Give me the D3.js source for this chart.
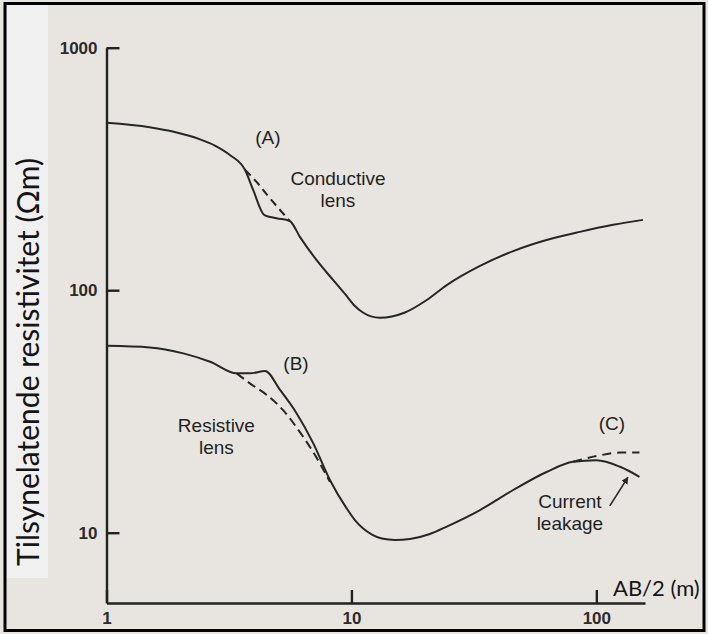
<!DOCTYPE html>
<html lang="no">
<head>
<meta charset="UTF-8" />
<title>Tilsynelatende resistivitet</title>
<script src="https://d3js.org/d3.v7.min.js"></script>
<style>
  body { margin: 0; background: #fff; }
  svg { display: block; }
  .tick text { font-family: "Liberation Sans", Arial, sans-serif; font-weight: bold; font-size: 17px; fill: #2b2b2b; }
  .note { font-family: "Liberation Sans", Arial, sans-serif; font-size: 19px; fill: #1f1f1f; }
</style>
</head>
<body>
<div class="canvas"></div>
<script>
// tick labels
const xTicks = [1, 10, 100];
const yTicks = [10, 100, 1000];

// [AB/2, rho_a]
const curveA = [[1, 490], [1.5, 470], [1.9, 449], [2.41, 419], [2.77, 395], [3.19, 361],
  [3.68, 313], [3.97, 259], [4.41, 204], [4.95, 198], [5.6, 193], [6.16, 166], [7.21, 133],
  [8.43, 110], [9.41, 96.5], [10.33, 86.1], [11.14, 80.9], [12.02, 78], [13.07, 77],
  [14.63, 77.9], [16.54, 80.9], [20.3, 91.1], [24.5, 105], [33.5, 126], [45.8, 145],
  [62.6, 161], [85.6, 174], [117, 186], [155, 195]];
const curveAlens = [[3.68, 313], [4.12, 278], [4.56, 245], [5.6, 193]];

const curveB = [[1, 59], [1.5, 58.1], [2.06, 54.9], [2.65, 50.7], [3.4, 45.4], [3.85, 45.4],
  [4.44, 46.4], [5.11, 38.8], [5.97, 31.1], [6.98, 23.4], [8.17, 16.5], [9.56, 12.6],
  [10.33, 11.28], [11.17, 10.41], [12.13, 9.83], [13.32, 9.46], [15.05, 9.33], [17.33, 9.42],
  [20.9, 9.88], [24.5, 10.6], [33.5, 12.4], [45.8, 15], [62.6, 17.8], [80.4, 19.6],
  [100, 19.9], [125, 18.7], [150, 17]];
const curveBlens = [[3.4, 45.4], [3.85, 41.3], [4.51, 37.0], [5.25, 32.1], [6.16, 26.0],
  [7.1, 20.9], [8.17, 16.2]];
const curveCnoLeak = [[80.4, 19.6], [100, 20.7], [125, 21.4], [150, 21.4]];

// annotations: text lines anchored in data coordinates
const notes = [
  { at: [4.56, 401], lines: ["(A)"] },
  { at: [8.81, 272], lines: ["Conductive", "lens"] },
  { at: [5.94, 46.9], lines: ["(B)"] },
  { at: [2.81, 26.0], lines: ["Resistive", "lens"] },
  { at: [115.7, 26.5], lines: ["(C)"] },
  { at: [78.0, 12.6], lines: ["Current", "leakage"] },
];
const leakArrow = [[113.5, 12.9], [134.5, 16.9]];

const width = 708;
const height = 634;

const svg = d3.select(".canvas").append("svg")
  .attr("width", width)
  .attr("height", height);

svg.append("rect")
  .attr("width", width)
  .attr("height", height)
  .attr("fill", "#e8e5e0");

// white strip behind the y title
svg.append("rect")
  .attr("x", 7).attr("y", 5)
  .attr("width", 41).attr("height", 573)
  .attr("fill", "#f1f0f1");

const x = d3.scaleLog().domain([1, 158]).range([106.5, 645]);
const y = d3.scaleLog().domain([5.13, 1000]).range([603, 47.7]);

const xAxisG = svg.append("g")
  .attr("transform", `translate(0, ${y.range()[0]})`)
  .call(d3.axisBottom(x).tickValues(xTicks).tickFormat(d3.format("d"))
    .tickSizeInner(-13).tickSizeOuter(0).tickPadding(9));

const yAxisG = svg.append("g")
  .attr("transform", `translate(${x.range()[0]}, 0)`)
  .call(d3.axisLeft(y).tickValues(yTicks).tickFormat(d3.format("d"))
    .tickSizeInner(-13).tickSizeOuter(0).tickPadding(9));

[xAxisG, yAxisG].forEach((g) => {
  g.selectAll("path, line").attr("stroke", "#222").attr("stroke-width", 2.4);
});

const line = d3.line()
  .x((d) => x(d[0]))
  .y((d) => y(d[1]))
  .curve(d3.curveMonotoneX);

const series = [
  { pts: curveA, dash: null },
  { pts: curveAlens, dash: "8,5" },
  { pts: curveB, dash: null },
  { pts: curveBlens, dash: "9,5" },
  { pts: curveCnoLeak, dash: "9,6" },
];

svg.append("g").selectAll("path")
  .data(series)
  .enter()
  .append("path")
  .attr("fill", "none")
  .attr("stroke", "#262626")
  .attr("stroke-width", 2)
  .attr("stroke-dasharray", (d) => d.dash)
  .attr("d", (d) => line(d.pts));

// annotations
const noteText = svg.append("g").selectAll("text")
  .data(notes)
  .enter()
  .append("text")
  .attr("class", "note")
  .attr("text-anchor", "middle")
  .attr("x", (d) => x(d.at[0]))
  .attr("y", (d) => y(d.at[1]));

noteText.selectAll("tspan")
  .data((d) => d.lines.map((t) => ({ t, x: x(d.at[0]) })))
  .enter()
  .append("tspan")
  .attr("x", (d) => d.x)
  .attr("dy", (d, i) => (i === 0 ? 0 : 22))
  .text((d) => d.t);

svg.append("defs").append("marker")
  .attr("id", "head")
  .attr("viewBox", "0 0 10 10")
  .attr("refX", 9).attr("refY", 5)
  .attr("markerWidth", 7).attr("markerHeight", 7)
  .attr("markerUnits", "userSpaceOnUse")
  .attr("orient", "auto")
  .append("path")
  .attr("d", "M0,0 L10,5 L0,10 z")
  .attr("fill", "#262626");

svg.append("path")
  .attr("d", d3.line().x((d) => x(d[0])).y((d) => y(d[1]))(leakArrow))
  .attr("stroke", "#262626")
  .attr("stroke-width", 1.6)
  .attr("marker-end", "url(#head)");

// axis titles
svg.append("text")
  .attr("transform", "translate(39, 362) rotate(-90)")
  .attr("text-anchor", "middle")
  .style("font-family", "Lato, 'Open Sans', sans-serif")
  .style("font-size", "30px")
  .attr("fill", "#151515")
  .text("Tilsynelatende resistivitet (Ωm)");

svg.append("text")
  .attr("x", 613)
  .attr("y", 596)
  .style("font-family", "Lato, 'Open Sans', sans-serif")
  .style("font-size", "22px")
  .attr("fill", "#151515")
  .text("AB/2 (m)");

// frame round the whole figure
svg.append("rect")
  .attr("x", 5).attr("y", 3.5)
  .attr("width", 699).attr("height", 627)
  .attr("fill", "none")
  .attr("stroke", "#000")
  .attr("stroke-width", 3);
</script>
</body>
</html>
